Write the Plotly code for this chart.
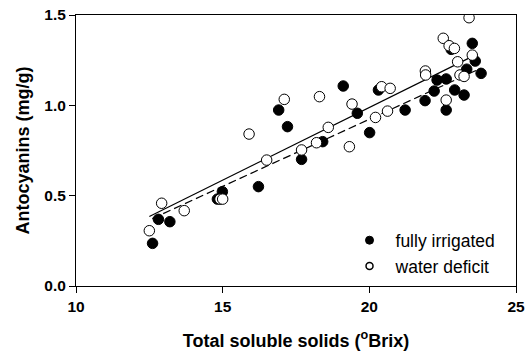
import plotly.graph_objects as go

# Fully irrigated vines: total soluble solids (°Brix) vs anthocyanins (mg/g)
irr_tss = [12.61, 12.81, 13.20, 14.82, 14.99, 16.22, 16.91, 17.21, 17.69, 18.41,
           19.11, 19.59, 20.01, 20.31, 21.22, 21.90, 22.21, 22.31, 22.62, 22.62,
           22.79, 22.91, 23.23, 23.32, 23.51, 23.61, 23.81]
irr_anth = [0.236, 0.369, 0.356, 0.481, 0.522, 0.550, 0.974, 0.882, 0.701, 0.799,
            1.107, 0.956, 0.849, 1.085, 0.974, 1.026, 1.079, 1.140, 1.146, 0.974,
            1.310, 1.085, 1.057, 1.200, 1.343, 1.245, 1.177]

# Water deficit vines
def_tss = [12.50, 12.92, 13.69, 14.91, 15.00, 15.90, 16.50, 17.10, 17.69, 18.20,
           18.30, 18.60, 19.32, 19.41, 20.21, 20.42, 20.62, 20.71, 21.91, 21.92,
           22.52, 22.62, 22.72, 22.90, 23.01, 23.09, 23.23, 23.40, 23.51]
def_anth = [0.306, 0.458, 0.417, 0.481, 0.481, 0.841, 0.697, 1.033, 0.753, 0.793,
            1.048, 0.878, 0.771, 1.007, 0.933, 1.103, 0.968, 1.094, 1.190, 1.168,
            1.371, 1.029, 1.330, 1.315, 1.241, 1.168, 1.160, 1.485, 1.278]

# Linear regression lines (slope, intercept, x-range)
irr_fit = {"slope": 0.0743, "intercept": -0.563, "x": [12.6, 23.8]}
def_fit = {"slope": 0.0804, "intercept": -0.620, "x": [12.5, 23.5]}

x_ticks = [10, 15, 20, 25]
y_ticks = [0.0, 0.5, 1.0, 1.5]

FONT = "Liberation Sans, Arial, sans-serif"


def fit_line(fit):
    xs = fit["x"]
    return xs, [fit["slope"] * x + fit["intercept"] for x in xs]


fig = go.Figure()

fx, fy = fit_line(irr_fit)
fig.add_trace(go.Scatter(x=fx, y=fy, mode="lines", showlegend=False,
                         line=dict(color="black", width=1.2, dash="8px,4px")))
dx, dy = fit_line(def_fit)
fig.add_trace(go.Scatter(x=dx, y=dy, mode="lines", showlegend=False,
                         line=dict(color="black", width=1.2)))

fig.add_trace(go.Scatter(x=irr_tss, y=irr_anth, mode="markers", showlegend=False,
                         marker=dict(symbol="circle", size=10.5, color="black",
                                     line=dict(color="black", width=1))))
fig.add_trace(go.Scatter(x=def_tss, y=def_anth, mode="markers", showlegend=False,
                         marker=dict(symbol="circle", size=10.5, color="white",
                                     line=dict(color="black", width=1))))

# Legend entries use smaller symbols than the data markers
fig.add_trace(go.Scatter(x=[None], y=[None], mode="markers", name="fully irrigated",
                         marker=dict(symbol="circle", size=8, color="black",
                                     line=dict(color="black", width=1))))
fig.add_trace(go.Scatter(x=[None], y=[None], mode="markers", name="water deficit",
                         marker=dict(symbol="circle", size=7, color="white",
                                     line=dict(color="black", width=1.5))))

axis_common = dict(
    showgrid=False, zeroline=False, showline=True, linecolor="black", linewidth=1,
    mirror=True, ticks="outside", ticklen=6, tickwidth=1, tickcolor="black",
    automargin=False,
    tickfont=dict(family=FONT, size=15.5, color="black", weight="bold"),
)

fig.update_xaxes(range=[10, 25], tickvals=x_ticks, ticktext=[str(v) for v in x_ticks],
                 title=dict(text="Total soluble solids (<sup>o</sup>Brix)", standoff=20,
                            font=dict(family=FONT, size=18, color="black", weight="bold")),
                 **axis_common)
fig.update_yaxes(range=[0, 1.5], tickvals=y_ticks, ticktext=[f"{v:.1f}" for v in y_ticks],
                 title=dict(text="Antocyanins (mg/g)", standoff=10,
                            font=dict(family=FONT, size=18, color="black", weight="bold")),
                 **axis_common)

fig.update_layout(
    width=525, height=354,
    margin=dict(l=76, r=9, t=15, b=68),
    paper_bgcolor="white", plot_bgcolor="white",
    font=dict(family=FONT, color="black"),
    legend=dict(x=0.608, y=0.235, xanchor="left", yanchor="top",
                bgcolor="rgba(0,0,0,0)", borderwidth=0,
                font=dict(family=FONT, size=17.5, color="black"),
                itemwidth=42, tracegroupgap=0),
)

fig.write_html("out.html")
